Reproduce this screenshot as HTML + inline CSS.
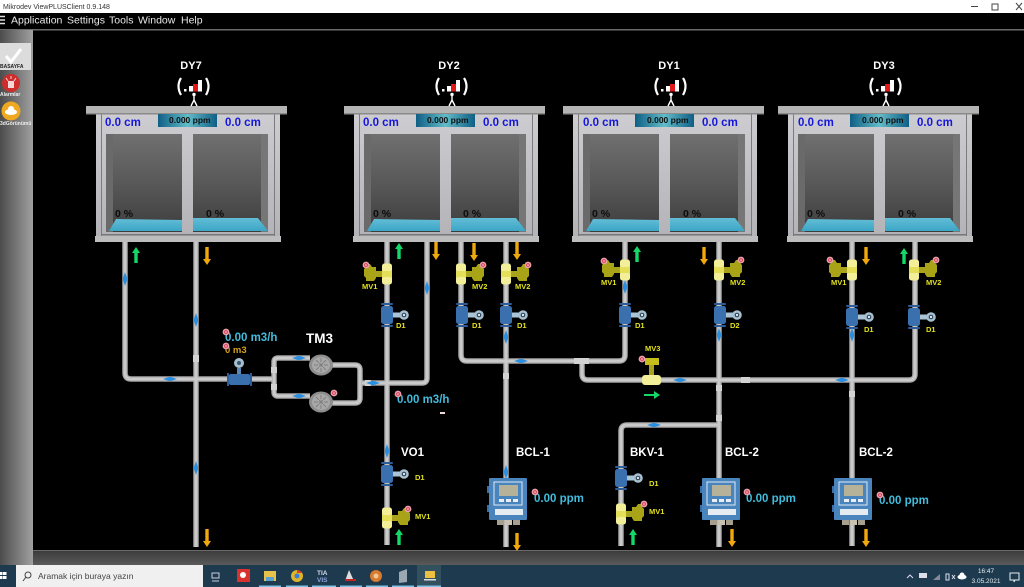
<!DOCTYPE html>
<html><head><meta charset="utf-8">
<style>
html,body{margin:0;padding:0;background:#000;width:1024px;height:587px;overflow:hidden}
svg{display:block;filter:blur(.35px)}
text{font-family:"Liberation Sans",sans-serif}
.b{font-weight:700}
.cm{font-weight:700;font-size:11.5px;fill:#1616dc}
.ppm{font-weight:700;font-size:8.5px;fill:#111}
.pct{font-size:10.5px;fill:#0c0c0c;font-weight:700}
.t{font-weight:700;font-size:11.5px;fill:#fff}
.y{font-weight:700;font-size:7.5px;fill:#e3e21e}
.c{font-weight:700;font-size:11.5px;fill:#41bcdc}
</style></head><body>
<svg width="1024" height="587" viewBox="0 0 1024 587" xmlns="http://www.w3.org/2000/svg">
<defs>
<linearGradient id="bodyg" x1="0" x2="0" y1="0" y2="1"><stop offset="0" stop-color="#cdcdd1"/><stop offset="1" stop-color="#b4b4b8"/></linearGradient>
<linearGradient id="win" x1="0" x2="0" y1="0" y2="1"><stop offset="0" stop-color="#707070"/><stop offset=".55" stop-color="#565656"/><stop offset="1" stop-color="#3d3d3d"/></linearGradient>
<linearGradient id="wat" x1="0" x2="0" y1="0" y2="1"><stop offset="0" stop-color="#62bdd6"/><stop offset="1" stop-color="#3ba6c6"/></linearGradient>
<linearGradient id="pb" x1="0" x2="1" y1="0" y2="0"><stop offset="0" stop-color="#0f5f85"/><stop offset=".5" stop-color="#62bcc8"/><stop offset="1" stop-color="#0f5f85"/></linearGradient>
<linearGradient id="sb" x1="0" x2="1" y1="0" y2="0"><stop offset="0" stop-color="#4c4c4c"/><stop offset="1" stop-color="#a0a0a0"/></linearGradient>
<linearGradient id="bot" x1="0" x2="0" y1="0" y2="1"><stop offset="0" stop-color="#3a3a3a"/><stop offset="1" stop-color="#5a5a5a"/></linearGradient>

<g id="tank">
  <rect x="10" y="114" width="184" height="122" fill="url(#bodyg)"/>
  <rect x="15" y="114" width="1" height="122" fill="#7c7c7c"/>
  <rect x="188" y="114" width="1" height="122" fill="#7c7c7c"/>
  <rect y="106" width="201" height="8" fill="#b4b4b4"/>
  <rect y="113" width="201" height="1.5" fill="#8a8a8a"/>
  <rect x="9" y="236" width="186" height="6" fill="#bdbdbd"/>
  <rect x="15" y="234" width="174" height="1.5" fill="#777"/>
  <rect x="20" y="134" width="76" height="98" fill="url(#win)"/>
  <rect x="107" y="134" width="75" height="98" fill="url(#win)"/>
  <rect x="20" y="134" width="7" height="98" fill="#6a6a6a"/>
  <rect x="175" y="134" width="7" height="98" fill="#767676"/>
  <rect x="72" y="114" width="59" height="13" fill="url(#pb)"/>
  <path d="M23 231L30 219 96 220V231Z" fill="url(#wat)"/>
  <path d="M107 218 172 218 182 231H107Z" fill="url(#wat)"/>
  <!-- signal -->
  <g transform="translate(108,0)">
    <rect x="-10" y="89" width="2.500" height="2.500" fill="#fff"/>
    <rect x="-5" y="86" width="4" height="5.500" fill="#fff"/>
    <rect x="-1" y="84" width="5" height="7.500" fill="#e01818"/>
    <rect x="4" y="80" width="4" height="11.500" fill="#fff"/>
    <path d="M-13 78Q-18 86 -13 95" stroke="#fff" stroke-width="2.200" fill="none"/>
    <path d="M12 78Q17 86 12 95" stroke="#fff" stroke-width="2.200" fill="none"/>
    <circle cy="94.500" r="1.700" fill="#fff"/>
    <path d="M0 96V100L-3 106M0 100L3 106" stroke="#fff" stroke-width="1.400" fill="none"/>
  </g>
</g>

<g id="dial"><circle r="3.4" fill="#e9a0ac"/><circle r="1.8" fill="#d62a44"/><circle r=".8" fill="#fff"/></g>

<g id="vr">
  <rect x="4" y="-3" width="9" height="6" fill="#a8a21c"/>
  <path d="M11-7h4l2-3h4v3l2 2v7l-2 2v3h-8l-2-3Z" fill="#a9a318"/>
  <rect x="-5" y="-10.500" width="10" height="9" rx="2.500" fill="#f3ef98"/>
  <rect x="-5" y="1.500" width="10" height="9" rx="2.500" fill="#f3ef98"/>
  <rect x="-5" y="-3" width="10" height="6" fill="#e4de58"/>
</g>
<g id="vl"><use href="#vr" transform="scale(-1,1)"/></g>

<g id="fm">
  <rect x="-6" y="-9" width="12" height="18" rx="2.500" fill="#3a70ae"/>
  <rect x="-6" y="-12" width="12" height="2" rx="1" fill="#2c5c9a"/>
  <rect x="-6" y="10" width="12" height="2" rx="1" fill="#2c5c9a"/>
  <rect x="6" y="-2.500" width="8" height="5" fill="#a9c4d6"/>
  <circle cx="17" cy="0" r="4.800" fill="#a6c0d2"/><circle cx="17" cy="0" r="2.300" fill="#2c3f50"/><circle cx="17" cy="0" r="1.200" fill="#dfe8ee"/>
</g>

<g id="an">
  <rect x="-1" y="0" width="38" height="42" rx="1" fill="#4a84bd"/>
  <rect x="4" y="4" width="28" height="23" fill="none" stroke="#dfe9f2" stroke-width="1"/>
  <rect x="9" y="7" width="19" height="11" fill="#b6b29a"/>
  <rect x="9" y="21" width="5" height="3" fill="#e8eef4"/><rect x="16" y="21" width="5" height="3" fill="#e8eef4"/><rect x="23" y="21" width="5" height="3" fill="#e8eef4"/>
  <rect x="5" y="31" width="28" height="6" fill="#e4ecf2"/>
  <rect x="-3" y="8" width="2" height="7" fill="#3a70a8"/><rect x="-3" y="27" width="2" height="7" fill="#3a70a8"/>
  <rect x="7" y="42" width="7" height="5" fill="#a79f8e"/><rect x="15" y="42" width="7" height="5" fill="#c9c2b2"/><rect x="23" y="42" width="7" height="5" fill="#a79f8e"/>
</g>

<path id="au" d="M0-8L4-2H1.700V8H-1.700V-2H-4Z"/>
<path id="ad" d="M0 9L4 3H1.700V-9H-1.700V3H-4Z"/>
<path id="fv" d="M0-7L2-1V1L0 7L-2 1V-1Z" fill="#2a8fe0"/>
<path id="fh" d="M-7 0L-1-2H1L7 0L1 2H-1Z" fill="#2a8fe0"/>
<g id="pump"><ellipse rx="12" ry="10.500" fill="#8e8e8e"/><ellipse rx="9" ry="8" fill="#a8a8a8"/><circle r="3" fill="#d0d0d0"/><path d="M-7 0H7M0-7V7M-5-5L5 5M-5 5L5-5" stroke="#808080" stroke-width="1"/></g>
</defs>

<!-- window chrome -->
<rect width="1024" height="13" fill="#fff"/>
<text x="3" y="9" font-size="7" fill="#333">Mikrodev ViewPLUSClient 0.9.148</text>
<path d="M971 6.500h7" stroke="#444" stroke-width="1"/>
<rect x="992" y="4" width="6" height="6" fill="none" stroke="#444" stroke-width="1"/>
<path d="M1016 3l6 7M1022 3l-6 7" stroke="#444" stroke-width="1"/>
<rect y="13" width="1024" height="16" fill="#000"/>
<rect y="29" width="1024" height="1.500" fill="#6a6a6a"/>
<path d="M0 16.500h5M0 20h5M0 23.500h5" stroke="#ddd" stroke-width="1.500"/>
<g font-size="10.500" fill="#e8e8e8">
<text x="11" y="23.500">Application</text><text x="67" y="23.500">Settings</text><text x="109" y="23.500">Tools</text><text x="138" y="23.500">Window</text><text x="181" y="23.500">Help</text>
</g>
<!-- sidebar -->
<rect y="30" width="33" height="535" fill="url(#sb)"/>
<rect y="43" width="31" height="27" fill="#dcdcdc"/>
<path d="M6 56l5 6 10-13" stroke="#fff" stroke-width="3" fill="none"/>
<text x="0" y="68" font-size="5" font-weight="700" fill="#222">BASAYFA</text>
<circle cx="11" cy="83" r="9" fill="#cf2c2c"/><rect x="8" y="81" width="6" height="7" fill="#f5d6d6"/><path d="M11 76v3M6 78l2 3M16 78l-2 3" stroke="#f5d6d6" stroke-width="1"/>
<text x="0" y="96" font-size="5" font-weight="700" fill="#eee">Alarmlar</text>
<circle cx="11" cy="111" r="9.500" fill="#efa920"/><ellipse cx="11" cy="112" rx="6" ry="3" fill="#fff"/><circle cx="11" cy="109" r="3" fill="#fff"/>
<text x="0" y="125" font-size="5" font-weight="700" fill="#eee">3dGörünümü</text>
<!-- bottom bar -->
<rect x="33" y="550" width="991" height="15" fill="url(#bot)"/>
<rect x="33" y="550" width="991" height="1" fill="#6a6a6a"/>
<!-- taskbar -->
<rect y="565" width="1024" height="22" fill="#1d3a4e"/>
<rect x="0" y="572" width="2.500" height="3" fill="#fff"/><rect x="3" y="572" width="3.500" height="3" fill="#fff"/><rect x="0" y="576" width="2.500" height="3" fill="#fff"/><rect x="3" y="576" width="3.500" height="3" fill="#fff"/>
<rect x="16" y="565" width="187" height="22" fill="#f0f0f0"/>
<circle cx="28" cy="575" r="3" fill="none" stroke="#444" stroke-width="1"/><path d="M26 577l-3 4" stroke="#444" stroke-width="1"/>
<text x="38" y="579" font-size="8.500" fill="#444">Aramak için buraya yazın</text>
<path d="M212 573h7v5h-7ZM212 581h7" stroke="#ccd" fill="none" stroke-width="1"/>
<rect x="237" y="569" width="13" height="13" fill="#d9322e"/><circle cx="243" cy="575" r="3" fill="#fff"/>
<rect x="264" y="571" width="12" height="10" fill="#e8c34c"/><rect x="266" y="577" width="8" height="4" fill="#5aa0d0"/>
<circle cx="297" cy="576" r="6" fill="#e0b428"/><path d="M297 570a6 6 0 0 1 5 3h-5Z" fill="#d63c30"/><circle cx="297" cy="576" r="2.500" fill="#3a7ed8"/>
<text x="317" y="575" font-size="6.500" font-weight="700" fill="#d8dcea">TIA</text><text x="317" y="582" font-size="6.500" font-weight="700" fill="#8ea4d8">VIS</text>
<path d="M345 581l4-11 5 11Z" fill="#ddd"/><rect x="345" y="579" width="11" height="2" fill="#c62020"/>
<circle cx="376" cy="576" r="6" fill="#d87a30"/><circle cx="376" cy="576" r="2.500" fill="#f0c890"/>
<path d="M399 572l8-3v13l-8 1Z" fill="#9aa8b4"/>
<rect x="417" y="565" width="24" height="22" fill="#33505f"/>
<rect x="425" y="571" width="10" height="7" fill="#ecc040"/><rect x="424" y="579" width="12" height="1.500" fill="#ddd"/>
<g fill="#7dc4e8"><rect x="259" y="585.500" width="22" height="1.500"/><rect x="286" y="585.500" width="22" height="1.500"/><rect x="312" y="585.500" width="24" height="1.500"/><rect x="340" y="585.500" width="22" height="1.500"/><rect x="366" y="585.500" width="22" height="1.500"/><rect x="392" y="585.500" width="22" height="1.500"/><rect x="417" y="585.500" width="24" height="1.500"/></g>
<path d="M907 578l3-3 3 3" stroke="#dde" fill="none" stroke-width="1"/>
<rect x="919" y="573" width="8" height="5" fill="#dde"/>
<path d="M933 580l7-6v6Z" fill="#889"/>
<path d="M946 574h3v6h-3ZM952 575l3 4M955 575l-3 4" stroke="#dde" fill="none" stroke-width="1"/>
<ellipse cx="962" cy="577" rx="4.500" ry="2.500" fill="#fff"/><circle cx="962" cy="575" r="2.500" fill="#fff"/>
<text x="986" y="573" font-size="6.500" text-anchor="middle" fill="#e8eef2">16:47</text>
<text x="986" y="583" font-size="6.500" text-anchor="middle" fill="#e8eef2">3.05.2021</text>
<path d="M1010 573h9v7h-4l-1 2v-2h-4Z" fill="none" stroke="#e8eef2" stroke-width="1"/>

<!-- pipes -->
<g fill="none" stroke-linejoin="round">
<g stroke="#a4a4a4" stroke-width="5.500">
<path d="M125 242V373Q125 379 131 379H272"/>
<path d="M196 242V547"/>
<path d="M310 358H278Q274 358 274 362V392Q274 396 278 396H310"/>
<path d="M330 365H355Q360 365 360 370V398Q360 403 355 403H330"/>
<path d="M362 383H422Q427 383 427 378V242"/>
<path d="M387 242V545"/>
<path d="M461 242V355Q461 361 467 361H619Q625 361 625 355V242"/>
<path d="M506 242V480M506 520V547"/>
<path d="M582 361V374Q582 380 588 380H909Q915 380 915 374V242"/>
<path d="M719 242V480M719 520V547"/>
<path d="M719 425H627Q621 425 621 431V546"/>
<path d="M852 242V480M852 520V546"/>
</g>
<g stroke="#cacaca" stroke-width="3">
<path d="M125 242V373Q125 379 131 379H272"/>
<path d="M196 242V547"/>
<path d="M310 358H278Q274 358 274 362V392Q274 396 278 396H310"/>
<path d="M330 365H355Q360 365 360 370V398Q360 403 355 403H330"/>
<path d="M362 383H422Q427 383 427 378V242"/>
<path d="M387 242V545"/>
<path d="M461 242V355Q461 361 467 361H619Q625 361 625 355V242"/>
<path d="M506 242V480M506 520V547"/>
<path d="M582 361V374Q582 380 588 380H909Q915 380 915 374V242"/>
<path d="M719 242V480M719 520V547"/>
<path d="M719 425H627Q621 425 621 431V546"/>
<path d="M852 242V480M852 520V546"/>
</g>
</g>
<g fill="#d2d2d2">
<rect x="271" y="367" width="6" height="6"/><rect x="271" y="384" width="6" height="6"/>
<rect x="365" y="380" width="6" height="6"/><rect x="193" y="355" width="6" height="7"/>
<rect x="503" y="373" width="6" height="6"/><rect x="716" y="385" width="6" height="6"/>
<rect x="716" y="415" width="6" height="6"/><rect x="849" y="391" width="6" height="6"/>
<rect x="574" y="358" width="15" height="6"/><rect x="741" y="377" width="9" height="6"/>
</g>

<!-- tanks -->
<use href="#tank" x="86"/><use href="#tank" x="344"/><use href="#tank" x="563"/><use href="#tank" x="778"/>
<g class="b" font-size="11" fill="#fff" text-anchor="middle">
<text x="191" y="69">DY7</text><text x="449" y="69">DY2</text><text x="669" y="69">DY1</text><text x="884" y="69">DY3</text>
</g>
<text class="cm" x="105" y="126">0.0 cm</text><text class="cm" x="225" y="126">0.0 cm</text><text class="ppm" x="169" y="123">0.000 ppm</text>
<text class="cm" x="363" y="126">0.0 cm</text><text class="cm" x="483" y="126">0.0 cm</text><text class="ppm" x="427" y="123">0.000 ppm</text>
<text class="cm" x="583" y="126">0.0 cm</text><text class="cm" x="702" y="126">0.0 cm</text><text class="ppm" x="647" y="123">0.000 ppm</text>
<text class="cm" x="798" y="126">0.0 cm</text><text class="cm" x="917" y="126">0.0 cm</text><text class="ppm" x="862" y="123">0.000 ppm</text>
<text class="pct" x="115" y="217">0 %</text><text class="pct" x="206" y="217">0 %</text>
<text class="pct" x="373" y="217">0 %</text><text class="pct" x="463" y="217">0 %</text>
<text class="pct" x="592" y="217">0 %</text><text class="pct" x="683" y="217">0 %</text>
<text class="pct" x="807" y="217">0 %</text><text class="pct" x="898" y="217">0 %</text>

<!-- valves -->
<use href="#vl" x="387" y="274"/><use href="#dial" x="366" y="265"/>
<use href="#vr" x="461" y="274"/><use href="#dial" x="483" y="265"/>
<use href="#vr" x="506" y="274"/><use href="#dial" x="528" y="265"/>
<use href="#vl" x="625" y="270"/><use href="#dial" x="604" y="261"/>
<use href="#vr" x="719" y="270"/><use href="#dial" x="741" y="260"/>
<use href="#vl" x="852" y="270"/><use href="#dial" x="830" y="260"/>
<use href="#vr" x="914" y="270"/><use href="#dial" x="936" y="260"/>
<use href="#vr" x="387" y="518"/><use href="#dial" x="408" y="509"/>
<use href="#vr" x="621" y="514"/><use href="#dial" x="644" y="504"/>
<text class="y" x="362" y="289">MV1</text><text class="y" x="472" y="289">MV2</text><text class="y" x="515" y="289">MV2</text>
<text class="y" x="601" y="285">MV1</text><text class="y" x="730" y="285">MV2</text>
<text class="y" x="831" y="285">MV1</text><text class="y" x="926" y="285">MV2</text>
<text class="y" x="415" y="519">MV1</text><text class="y" x="649" y="514">MV1</text>
<!-- MV3 -->
<rect x="642" y="375" width="19" height="10" rx="3" fill="#f3ef98"/>
<rect x="649" y="365" width="5" height="10" fill="#a8a21c"/>
<path d="M645 358h14v7h-14Z" fill="#c4bd1c"/>
<use href="#dial" x="642" y="359"/>
<text class="y" x="645" y="351">MV3</text>

<!-- flow meters -->
<use href="#fm" x="387" y="315"/><use href="#fm" x="462" y="315"/><use href="#fm" x="506" y="315"/><use href="#fm" x="625" y="315"/>
<use href="#fm" x="720" y="315"/><use href="#fm" x="852" y="317"/><use href="#fm" x="914" y="317"/>
<use href="#fm" x="387" y="474"/><use href="#fm" x="621" y="478"/>
<text class="y" x="396" y="328">D1</text><text class="y" x="472" y="328">D1</text><text class="y" x="517" y="328">D1</text><text class="y" x="635" y="328">D1</text>
<text class="y" x="730" y="328">D2</text><text class="y" x="864" y="332">D1</text><text class="y" x="926" y="332">D1</text>
<text class="y" x="415" y="480">D1</text><text class="y" x="649" y="486">D1</text>

<!-- horizontal meter -->
<rect x="229" y="374" width="21" height="11" rx="2" fill="#3a70ae"/>
<rect x="227" y="373" width="2" height="13" fill="#2c5c9a"/><rect x="250" y="373" width="2" height="13" fill="#2c5c9a"/>
<rect x="237" y="368" width="4" height="6" fill="#5a88b4"/>
<circle cx="239" cy="363" r="5" fill="#a6c0d2"/><circle cx="239" cy="363" r="2" fill="#3c5468"/>
<!-- pumps -->
<use href="#pump" x="321" y="365"/><use href="#pump" x="321" y="402"/>
<use href="#dial" x="334" y="393"/>

<!-- analysers -->
<use href="#an" x="490" y="478"/><use href="#an" x="703" y="478"/><use href="#an" x="835" y="478"/>

<!-- green & orange arrows -->
<g fill="#f0a80c">
<use href="#ad" x="207" y="256"/><use href="#ad" x="436" y="251"/><use href="#ad" x="474" y="252"/><use href="#ad" x="517" y="251"/>
<use href="#ad" x="704" y="256"/><use href="#ad" x="866" y="256"/>
<use href="#ad" x="207" y="538"/><use href="#ad" x="517" y="542"/><use href="#ad" x="732" y="538"/><use href="#ad" x="866" y="538"/>
</g>
<g fill="#14d868">
<use href="#au" x="136" y="255"/><use href="#au" x="399" y="251"/><use href="#au" x="637" y="254"/><use href="#au" x="904" y="256"/>
<use href="#au" x="399" y="537"/><use href="#au" x="633" y="537"/>
<path d="M644 394h10v-3l6 4-6 4v-3h-10Z"/>
</g>
<!-- flow markers -->
<use href="#fv" x="125" y="279"/><use href="#fv" x="196" y="320"/><use href="#fv" x="196" y="468"/>
<use href="#fv" x="427" y="288"/><use href="#fv" x="387" y="451"/><use href="#fv" x="506" y="337"/><use href="#fv" x="625" y="287"/>
<use href="#fv" x="852" y="335"/><use href="#fv" x="719" y="335"/><use href="#fv" x="506" y="472"/>
<use href="#fh" x="170" y="379"/><use href="#fh" x="521" y="361"/><use href="#fh" x="680" y="380"/><use href="#fh" x="842" y="380"/>
<use href="#fh" x="373" y="383"/><use href="#fh" x="654" y="425"/>
<use href="#fh" x="299" y="358"/><use href="#fh" x="299" y="396"/>

<!-- labels -->
<text class="b" x="306" y="343" font-size="13.500" fill="#fff">TM3</text>
<text class="t" x="401" y="456">VO1</text>
<text class="t" x="516" y="456">BCL-1</text><text class="t" x="630" y="456">BKV-1</text>
<text class="t" x="725" y="456">BCL-2</text><text class="t" x="859" y="456">BCL-2</text>
<text class="c" x="225" y="341">0.00 m3/h</text>
<text class="b" x="225" y="353" font-size="9.500" fill="#d8a018">0 m3</text>
<text class="c" x="397" y="403">0.00 m3/h</text>
<text class="c" x="534" y="502">0.00 ppm</text><text class="c" x="746" y="502">0.00 ppm</text><text class="c" x="879" y="504">0.00 ppm</text>
<use href="#dial" x="226" y="332"/><use href="#dial" x="226" y="346"/><use href="#dial" x="398" y="394"/>
<use href="#dial" x="535" y="492"/><use href="#dial" x="747" y="492"/><use href="#dial" x="880" y="495"/>
<rect x="440" y="412" width="5" height="2" fill="#f0d8d8"/>
</svg>
</body></html>
